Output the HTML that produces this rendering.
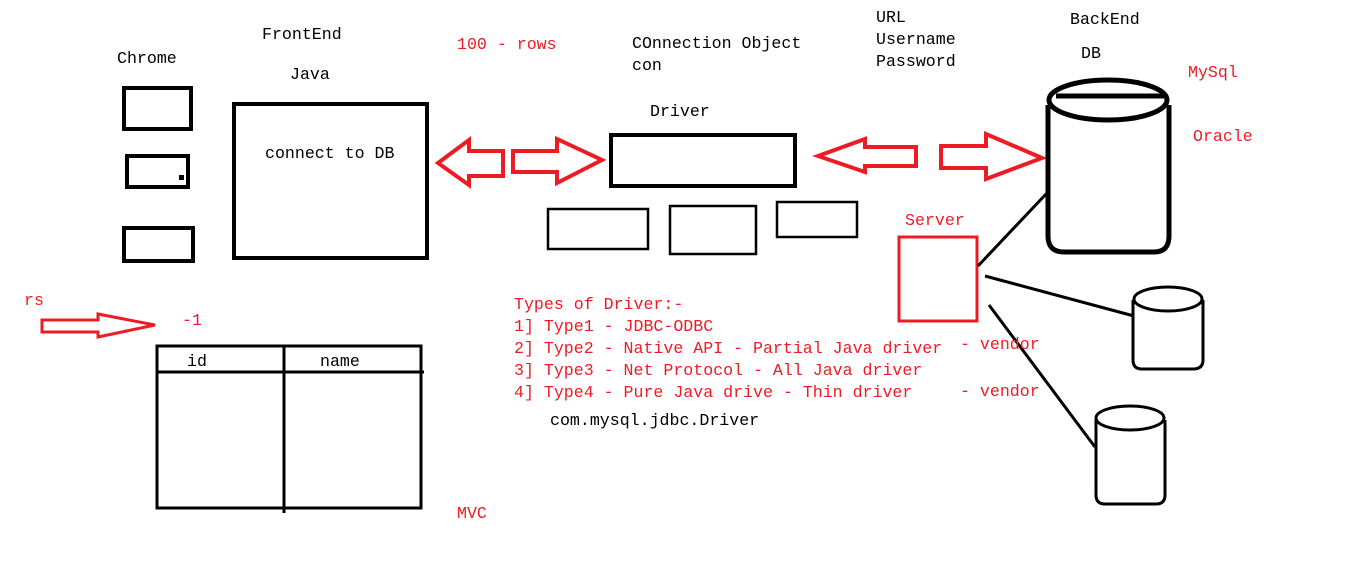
<!DOCTYPE html>
<html><head><meta charset="utf-8"><style>
html,body{margin:0;padding:0;background:#fff;}
svg{display:block;}
text{font-family:"Liberation Mono",monospace;font-size:16.6px;}
.k{fill:#000}.r{fill:#ed1c24}
</style></head><body>
<svg width="1360" height="568" viewBox="0 0 1360 568" xmlns="http://www.w3.org/2000/svg">
<g fill="none" stroke="#000" stroke-width="4">
<rect x="124" y="88" width="67" height="41"/>
<rect x="127" y="156" width="61" height="31"/>
<rect x="124" y="228" width="69" height="33"/>
<rect x="234" y="104" width="193" height="154"/>
<rect x="611" y="135" width="184" height="51"/>
</g>
<rect x="179" y="175" width="5" height="5" fill="#000"/>
<g fill="none" stroke="#000" stroke-width="2.5">
<rect x="548" y="209" width="100" height="40"/>
<rect x="670" y="206" width="86" height="48"/>
<rect x="777" y="202" width="80" height="35"/>
</g>
<g fill="none" stroke="#000" stroke-width="3">
<rect x="157" y="346" width="264" height="162"/>
<line x1="157" y1="372" x2="424" y2="372"/>
<line x1="284" y1="346" x2="284" y2="513"/>
</g>
<g fill="none" stroke="#ed1c24" stroke-width="4" stroke-linejoin="miter">
<polygon points="438,163 469,140 469,151 503,151 503,176 469,176 469,185"/>
<polygon points="513,151 557,151 557,139 602,160 557,183 557,172 513,172"/>
<polygon points="818,156 865,139 865,147 916,147 916,166 865,166 865,172"/>
<polygon points="941,146 986,146 986,134 1042,158 986,179 986,168 941,168"/>
</g>
<polygon points="42,320 98,320 98,314 155,325 98,337 98,332 42,332" fill="none" stroke="#ed1c24" stroke-width="3"/>
<rect x="899" y="237" width="78" height="84" fill="none" stroke="#ed1c24" stroke-width="3"/>
<g stroke="#000" stroke-width="3" fill="none">
<line x1="978" y1="266" x2="1047" y2="193"/>
<line x1="985" y1="276" x2="1134" y2="316"/>
<line x1="989" y1="305" x2="1095" y2="447"/>
</g>
<g fill="none" stroke="#000" stroke-width="5">
<path d="M1048,105 L1048,236 Q1048,252 1064,252 L1154,252 Q1169,252 1169,236 L1169,105"/>
<ellipse cx="1108" cy="100" rx="59" ry="20"/>
<line x1="1056" y1="96" x2="1164" y2="96"/>
</g>
<g fill="none" stroke="#000" stroke-width="3">
<path d="M1133,300 L1133,360 Q1133,369 1142,369 L1193,369 Q1203,369 1203,360 L1203,300"/>
<ellipse cx="1168" cy="299" rx="34" ry="12"/>
<path d="M1096,420 L1096,495 Q1096,504 1105,504 L1156,504 Q1165,504 1165,495 L1165,420"/>
<ellipse cx="1130" cy="418" rx="34" ry="12"/>
</g>
<text x="117" y="63" class="k">Chrome</text>
<text x="262" y="39" class="k">FrontEnd</text>
<text x="290" y="79" class="k">Java</text>
<text x="265" y="158" class="k">connect to DB</text>
<text x="632" y="48" class="k">COnnection Object</text>
<text x="632" y="70" class="k">con</text>
<text x="650" y="116" class="k">Driver</text>
<text x="876" y="22" class="k">URL</text>
<text x="876" y="44" class="k">Username</text>
<text x="876" y="66" class="k">Password</text>
<text x="1070" y="24" class="k">BackEnd</text>
<text x="1081" y="58" class="k">DB</text>
<text x="187" y="366" class="k">id</text>
<text x="320" y="366" class="k">name</text>
<text x="550" y="425" class="k">com.mysql.jdbc.Driver</text>
<text x="457" y="49" class="r">100 - rows</text>
<text x="1188" y="77" class="r">MySql</text>
<text x="1193" y="141" class="r">Oracle</text>
<text x="905" y="225" class="r">Server</text>
<text x="24" y="305" class="r">rs</text>
<text x="182" y="325" class="r">-1</text>
<text x="514" y="309" class="r">Types of Driver:-</text>
<text x="514" y="331" class="r">1] Type1 - JDBC-ODBC</text>
<text x="514" y="353" class="r">2] Type2 - Native API - Partial Java driver</text>
<text x="514" y="375" class="r">3] Type3 - Net Protocol - All Java driver</text>
<text x="514" y="397" class="r">4] Type4 - Pure Java drive - Thin driver</text>
<text x="960" y="349" class="r">- vendor</text>
<text x="960" y="396" class="r">- vendor</text>
<text x="457" y="518" class="r">MVC</text>
</svg>
</body></html>
